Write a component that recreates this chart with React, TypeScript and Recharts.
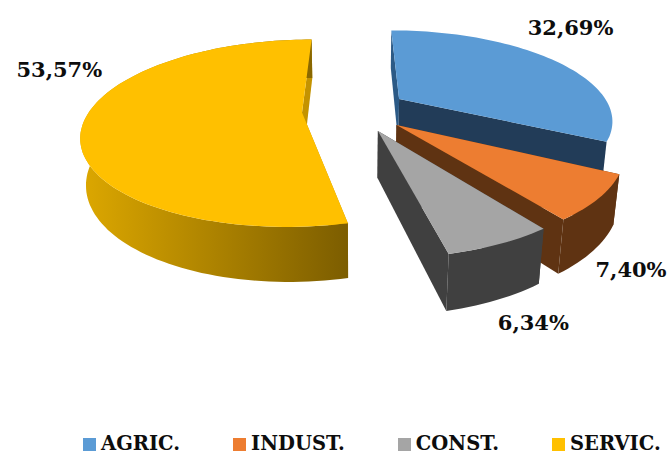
// App.tsx
import React from 'react';
import { PieChart, Pie, Legend } from 'recharts';

const categories = ['AGRIC.', 'INDUST.', 'CONST.', 'SERVIC.'];
const shares = [32.69, 7.4, 6.34, 53.57];
const topColors = ['#5B9BD5', '#ED7D31', '#A5A5A5', '#FFC000'];
const wallLeftColors = ['#223C58', '#5F3312', '#404040', '#DDA800'];
const wallRightColors = ['#223C58', '#5F3312', '#404040', '#7C5D00'];
const startEdgeColors = ['#2C5A86', '#5F3312', '#404040', '#C49300'];
const endEdgeColors = ['#223C58', '#5F3312', '#404040', '#C49300'];
const labelNudges = [[17, -33], [32, 71], [33, 79], [-24, -53]];

const chartData = categories.map((name, i) => ({ name, value: shares[i], fill: topColors[i] }));

// fake 3D view of the pie, the same numbers Excel's perspective works out to
const TILT = 0.415;
const PERSPECTIVE = 0.22;
const EXPLODE = 0.25;
const DEPTH = 46;
const DEPTH_SHRINK = 0.02;

const serif = '"DejaVu Serif", serif';

type Pt = [number, number];

const project = (cx: number, cy: number, r: number, mid: number, theta: number, radial: number, low: boolean): Pt => {
  const u = EXPLODE * Math.sin(mid) + radial * Math.sin(theta);
  const v = -EXPLODE * Math.cos(mid) - radial * Math.cos(theta);
  const p = 1 / (1 - PERSPECTIVE * v + (low ? DEPTH_SHRINK : 0));
  return [cx + r * u * p, cy + (r * TILT * v + (low ? DEPTH : 0)) * p];
};

const toPath = (pts: Pt[]) =>
  'M' + pts.map(([x, y]) => `${x.toFixed(1)},${y.toFixed(1)}`).join('L') + 'Z';

const SliceShape = (props: any) => {
  const { cx, cy, outerRadius, startAngle, endAngle, name } = props;
  const idx = categories.indexOf(name);
  const t0 = ((90 - startAngle) * Math.PI) / 180;
  const t1 = ((90 - endAngle) * Math.PI) / 180;
  const mid = (t0 + t1) / 2;
  const at = (theta: number, radial: number, low: boolean) =>
    project(cx, cy, outerRadius, mid, theta, radial, low);

  const steps = Math.max(2, Math.ceil((t1 - t0) / 0.03));
  const rimTop: Pt[] = [];
  const rimLow: Pt[] = [];
  for (let i = 0; i <= steps; i++) {
    const t = t0 + ((t1 - t0) * i) / steps;
    rimTop.push(at(t, 1, false));
    rimLow.push(at(t, 1, true));
  }
  const gradId = `wall-${idx}`;
  const xs = rimTop.map(p => p[0]);
  const apexTop = at(mid, 0, false);
  const apexLow = at(mid, 0, true);
  // slices pushed to the back don't show their round side in the reference
  const showRim = Math.cos(mid) < 0 || t1 - t0 > Math.PI;

  return (
    <g>
      <defs>
        <linearGradient id={gradId} gradientUnits="userSpaceOnUse" x1={Math.min(...xs)} y1={0} x2={Math.max(...xs)} y2={0}>
          <stop offset="0%" stopColor={wallLeftColors[idx]} />
          <stop offset="100%" stopColor={wallRightColors[idx]} />
        </linearGradient>
      </defs>
      <path d={toPath([rimTop[0], rimLow[0], apexLow, apexTop])} fill={startEdgeColors[idx]} />
      <path d={toPath([rimTop[steps], rimLow[steps], apexLow, apexTop])} fill={endEdgeColors[idx]} />
      {showRim && <path d={toPath([...rimTop, ...rimLow.slice().reverse()])} fill={`url(#${gradId})`} />}
      <path d={toPath([apexTop, ...rimTop])} fill={props.fill} />
    </g>
  );
};

const renderLabel = (props: any) => {
  const { cx, cy, outerRadius, midAngle, name, value } = props;
  const idx = categories.indexOf(name);
  const mid = ((90 - midAngle) * Math.PI) / 180;
  const [x, y] = project(cx, cy, outerRadius, mid, mid, 1, false);
  return (
    <text
      x={x + labelNudges[idx][0]}
      y={y + labelNudges[idx][1]}
      textAnchor="middle"
      dominantBaseline="central"
      fontFamily={serif}
      fontWeight="bold"
      fontSize={21}
      fill="#0d0d0d"
    >
      {value.toFixed(2).replace('.', ',') + '%'}
    </text>
  );
};

const renderLegend = ({ payload }: any) => {
  const items = (payload || []).slice().sort((a: any, b: any) => categories.indexOf(a.value) - categories.indexOf(b.value));
  return (
    <div style={{ display: 'flex', gap: 53, alignItems: 'center', fontFamily: serif, fontWeight: 'bold', fontSize: 19.5, lineHeight: '14px', color: '#0d0d0d', whiteSpace: 'nowrap' }}>
      {items.map((entry: any) => (
        <div key={entry.value} style={{ display: 'flex', alignItems: 'center', gap: 5 }}>
          <span style={{ display: 'inline-block', width: 13, height: 13, background: entry.color }} />
          <span>{entry.value}</span>
        </div>
      ))}
    </div>
  );
};

export default function App() {
  return (
    <div style={{ position: 'absolute', left: 0, top: 0, width: 670, height: 452, background: '#fff' }}>
      <PieChart width={670} height={452} margin={{ top: 0, right: 0, bottom: 0, left: 0 }}>
        <Pie
          data={chartData}
          dataKey="value"
          nameKey="name"
          cx={355}
          cy={110}
          outerRadius={212}
          startAngle={90}
          endAngle={-270}
          stroke="none"
          shape={SliceShape}
          label={renderLabel}
          labelLine={false}
          isAnimationActive={false}
        />
        <Legend content={renderLegend} wrapperStyle={{ left: 83, top: 437, width: 587 }} />
      </PieChart>
    </div>
  );
}
